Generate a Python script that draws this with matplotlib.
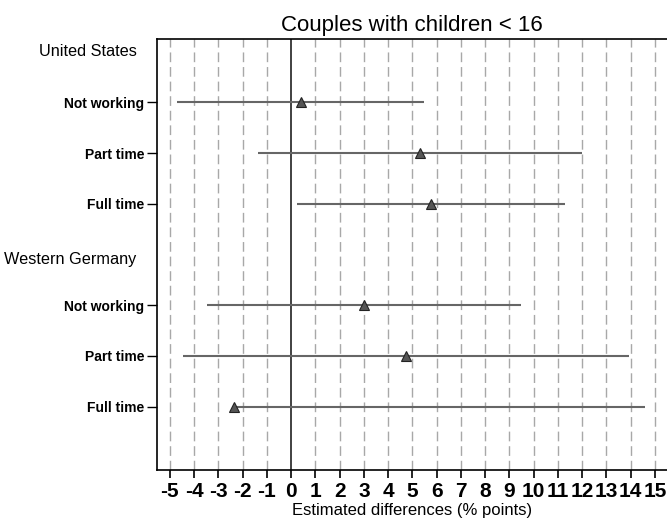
import numpy as np
import matplotlib
matplotlib.use("Agg")
import matplotlib.pyplot as plt

plt.rcParams['font.family'] = ['Liberation Sans', 'DejaVu Sans']

# estimates and confidence bounds, % points
groups = ["United States", "Western Germany"]
rows = ["Not working", "Part time", "Full time"]
us_est = [0.4, 5.3, 5.75]
us_lo = [-4.7, -1.35, 0.25]
us_hi = [5.5, 12.0, 11.3]
wg_est = [3.0, 4.75, -2.35]
wg_lo = [-3.45, -4.45, -2.3]
wg_hi = [9.5, 13.95, 14.6]
xticks = list(range(-5, 16))

fig = plt.figure(figsize=(6.67, 5.2), dpi=100)
ax = fig.add_axes([0.2354, 0.0962, 0.7646, 0.8288])

ypos_us = [1, 2, 3]
ypos_wg = [5, 6, 7]
header_pos = [0.0, 4.1]

for x in xticks:
    if x == 0:
        continue
    ax.axvline(x, color='#a8a8a8', lw=1.0, dashes=(7, 3.5), zorder=1)
ax.axvline(0, color='#333333', lw=1.3, zorder=2)

est = us_est + wg_est
lo = us_lo + wg_lo
hi = us_hi + wg_hi
ypos = ypos_us + ypos_wg
ax.hlines(ypos, lo, hi, color='#666666', lw=1.5, zorder=3)
ax.plot(est, ypos, '^', ms=7, color='#555555', mec='#222222', mew=0.8,
        zorder=4, ls='none')

ax.set_xlim(-5.53, 15.5)
ax.set_ylim(8.25, -0.25)
ax.set_xticks(xticks)
ax.set_xticklabels([str(x) for x in xticks], fontsize=15, fontweight='bold')
ax.set_yticks(ypos)
ax.set_yticklabels(rows + rows, fontsize=10, fontweight='bold')
ax.tick_params(axis='y', length=7, width=1, pad=2)
ax.tick_params(axis='x', length=6, width=1.2, pad=3)

for g, y in zip(groups, header_pos):
    ax.text(-0.04, y, g, transform=ax.get_yaxis_transform(), ha='right',
            va='center', fontsize=11.7)

ax.spines['right'].set_visible(False)
for s in ['left', 'bottom', 'top']:
    ax.spines[s].set_linewidth(1.2)
    ax.spines[s].set_color('black')

ax.set_title("Couples with children < 16", fontsize=16, pad=6)
ax.set_xlabel("Estimated differences (% points)", fontsize=12, labelpad=1)

fig.savefig("out.png", dpi=100)
